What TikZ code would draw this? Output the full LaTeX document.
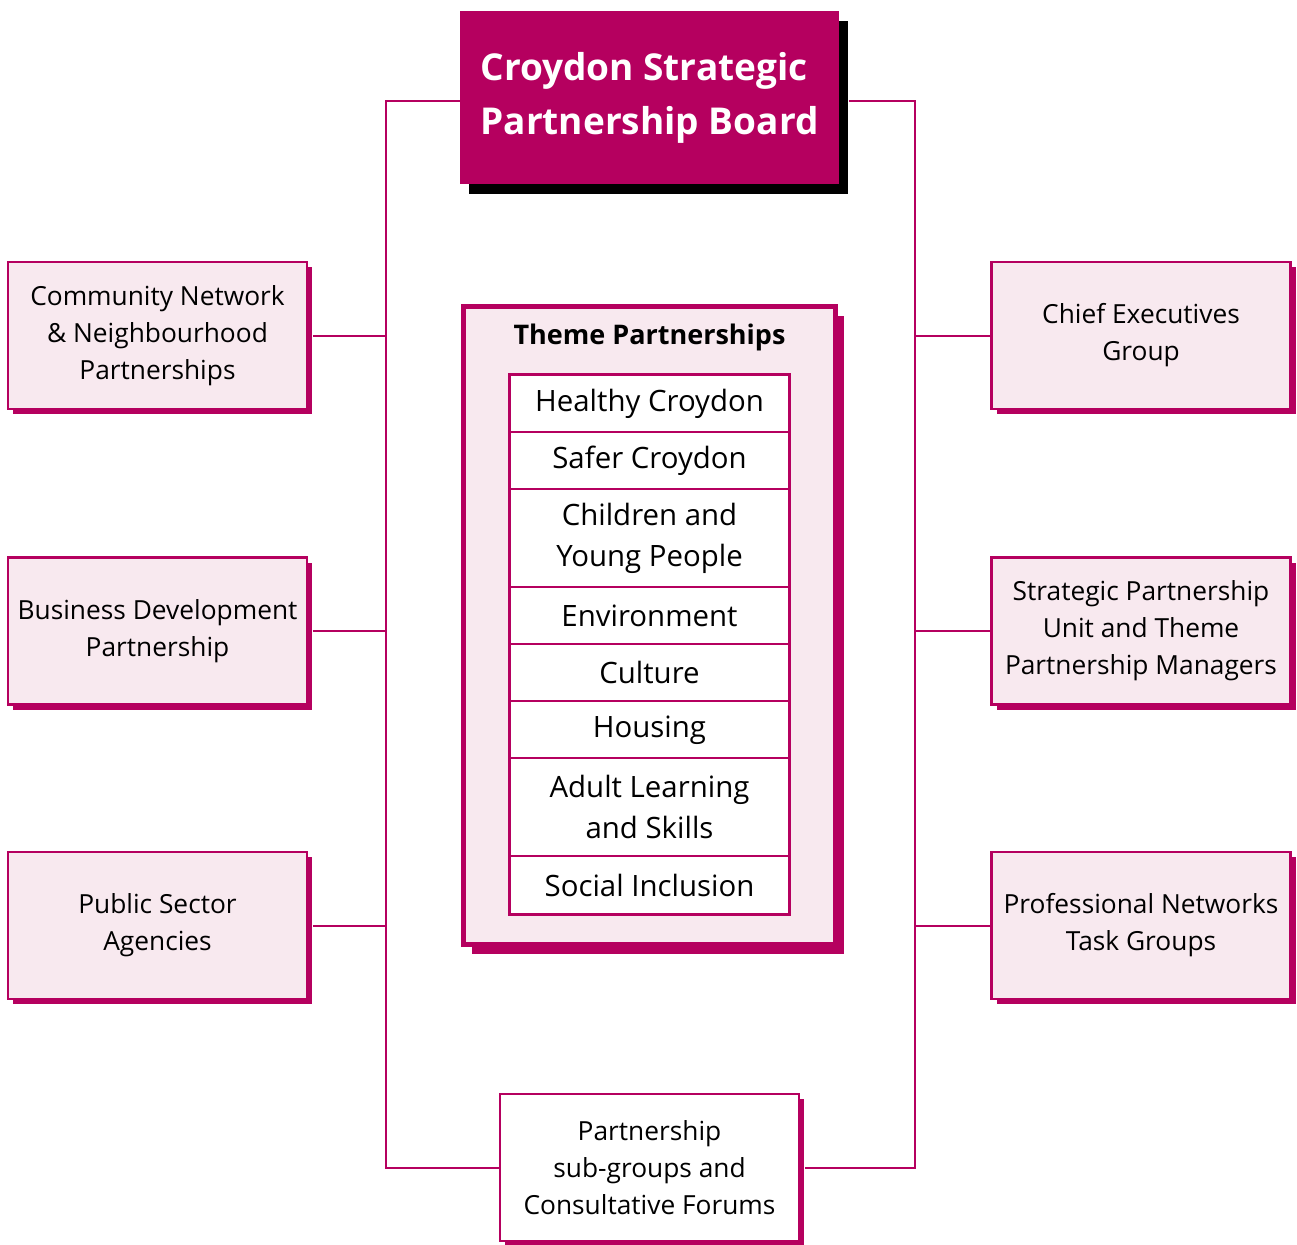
\documentclass[tikz,border=0pt]{standalone}
\usepackage{fontspec}
\setmainfont{Open Sans}
\usetikzlibrary{shadows}
\definecolor{mag}{HTML}{B5005F}
\definecolor{pinkfill}{HTML}{F8E9EF}
\begin{document}
\begin{tikzpicture}[x=1pt,y=-1pt,
  conn/.style={draw=mag,line width=2pt},
  sidebox/.style={draw=mag,line width=2.5pt,fill=pinkfill,inner sep=0pt,
    minimum width=299pt,minimum height=147pt,align=center,
    font=\fontsize{26.3}{37}\selectfont,
    general shadow={fill=mag,shadow xshift=5pt,shadow yshift=-5pt}},
  whitebox/.style={sidebox,fill=white},
  rowbox/.style={draw=mag,line width=1.5pt,fill=white,inner sep=0pt,
    minimum width=279pt,align=center,font=\fontsize{29.4}{41}\selectfont},
]
\useasboundingbox (0,0) rectangle (1297,1244);
\fill[white] (0,0) rectangle (1297,1244);
\coordinate (L) at (386,0);
\coordinate (R) at (915,0);

% side boxes
\node[sidebox] (cn) at (157.5,335.5) {Community Network\\\& Neighbourhood\\Partnerships};
\node[sidebox] (bd) at (157.5,631) {Business Development\\Partnership};
\node[sidebox] (ps) at (157.5,925.5) {Public Sector\\Agencies};
\node[sidebox] (ce) at (1141,335.5) {Chief Executives\\Group};
\node[sidebox] (sp) at (1141,631) {Strategic Partnership\\Unit and Theme\\Partnership Managers};
\node[sidebox] (pn) at (1141,925.5) {Professional Networks\\Task Groups};
\node[whitebox] (sub) at (649.5,1167.5) {Partnership\\sub-groups and\\Consultative Forums};

% board
\node[fill=mag,minimum width=379pt,minimum height=173pt,inner sep=0pt,
  text=white,align=left,font=\fontsize{37}{54}\bfseries\selectfont,
  general shadow={fill=black,shadow xshift=9pt,shadow yshift=-10pt}]
  (board) at (649.5,97.5) {Croydon Strategic\\Partnership Board};

% connectors
\coordinate (bw) at ([yshift=-3.5pt]board.west);
\coordinate (be) at ([xshift=10pt,yshift=-3.5pt]board.east);
\coordinate (se) at ([xshift=5pt]sub.east);
\draw[conn] (bw) -- (bw -| L) -- (sub.west -| L) -- (sub.west);
\draw[conn] (be) -- (be -| R) -- (se -| R) -- (se);
\draw[conn] ([xshift=5pt]cn.east) -- (cn.east -| L);
\draw[conn] ([xshift=5pt]bd.east) -- (bd.east -| L);
\draw[conn] ([xshift=5pt]ps.east) -- (ps.east -| L);
\draw[conn] (ce.west) -- (ce.west -| R);
\draw[conn] (sp.west) -- (sp.west -| R);
\draw[conn] (pn.west) -- (pn.west -| R);

% theme partnerships
\node[draw=mag,line width=5pt,fill=pinkfill,minimum width=372pt,minimum height=638pt,
  inner sep=0pt,general shadow={fill=mag,shadow xshift=8pt,shadow yshift=-9pt}]
  (theme) at (649.5,625.5) {};
\node[font=\fontsize{27}{30}\bfseries\selectfont] (themetitle) at (649.5,337) {Theme Partnerships};
\node[rowbox,minimum height=57pt] (r1) at (649.5,403.5) {Healthy Croydon};
\node[rowbox,minimum height=57pt] (r2) at (649.5,460.5) {Safer Croydon};
\node[rowbox,minimum height=98pt] (r3) at (649.5,538) {Children and\\Young People};
\node[rowbox,minimum height=57pt] (r4) at (649.5,615.5) {Environment};
\node[rowbox,minimum height=57pt] (r5) at (649.5,672.5) {Culture};
\node[rowbox,minimum height=57pt] (r6) at (649.5,729.5) {\strut Housing};
\node[rowbox,minimum height=98pt] (r7) at (649.5,807) {Adult Learning\\and Skills};
\node[rowbox,minimum height=58pt] (r8) at (649.5,885) {Social Inclusion};
\draw[mag,line width=2.5pt] (r1.north west) rectangle (r8.south east);
\end{tikzpicture}
\end{document}
